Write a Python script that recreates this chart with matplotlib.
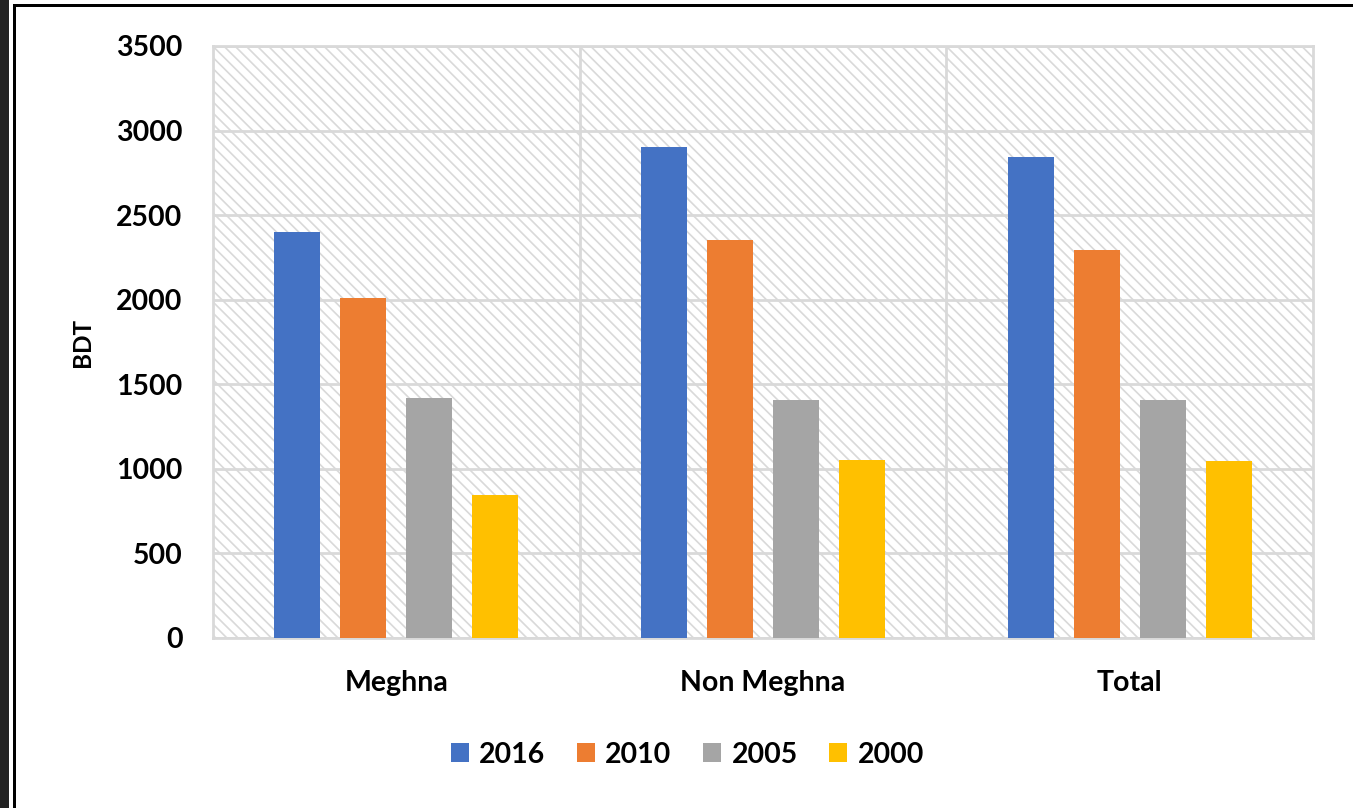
import numpy as np
import matplotlib.pyplot as plt
from matplotlib.patches import Rectangle

categories = ['Meghna', 'Non Meghna', 'Total']
years = ['2016', '2010', '2005', '2000']
values_2016 = [2400, 2905, 2845]
values_2010 = [2010, 2350, 2295]
values_2005 = [1420, 1405, 1405]
values_2000 = [845, 1055, 1045]
colors = ['#4472c4', '#ed7d31', '#a5a5a5', '#ffc000']

series = [values_2016, values_2010, values_2005, values_2000]

plt.rcParams['font.family'] = ['Lato', 'DejaVu Sans']
plt.rcParams['font.weight'] = 'bold'
plt.rcParams['hatch.linewidth'] = 1.2
plt.rcParams['hatch.color'] = '#d9d9d9'

fig = plt.figure(figsize=(13.53, 8.08), dpi=100)
ax = fig.add_axes([0.1574, 0.2104, 0.8130, 0.7327])

# hatched plot area background
bg = Rectangle((0, 0), 1, 1, transform=ax.transAxes, facecolor='white',
               edgecolor='#d9d9d9', hatch='\\\\\\', linewidth=0, zorder=0)
ax.add_patch(bg)

x = np.arange(len(categories))
width = 0.125
offsets = [-0.27, -0.09, 0.09, 0.27]
for vals, off, col, lab in zip(series, offsets, colors, years):
    ax.bar(x + off, vals, width, color=col, label=lab, zorder=3)

ax.set_xlim(-0.5, 2.5)
ax.set_ylim(0, 3500)
ax.set_yticks(np.arange(0, 3501, 500))
ax.set_xticks(x)
ax.set_xticklabels(categories)
ax.set_xticks([0.5, 1.5], minor=True)

ax.grid(axis='y', color='#d9d9d9', linewidth=2, zorder=1)
ax.grid(axis='x', which='minor', color='#d9d9d9', linewidth=2, zorder=1)
ax.set_axisbelow(True)
for s in ax.spines.values():
    s.set_color('#d9d9d9')
    s.set_linewidth(2)

ax.tick_params(axis='both', which='both', length=0, labelsize=20.5)
ax.tick_params(axis='y', pad=22)
ax.tick_params(axis='x', pad=23)
ax.set_ylabel('BDT', fontsize=17.5, fontweight='bold', labelpad=16)

fig.legend(loc='center', bbox_to_anchor=(0.508, 0.066), ncol=4, frameon=False,
           fontsize=20.5, handlelength=0.65, handleheight=0.65,
           handletextpad=0.35, columnspacing=1.1)

# outer frame
fig.patches.append(Rectangle((0, 0), 9 / 1353, 1, transform=fig.transFigure,
                             facecolor='#222222', edgecolor='none'))
fig.patches.append(Rectangle((13 / 1353, 0), 3 / 1353, 1 - 4 / 808,
                             transform=fig.transFigure,
                             facecolor='black', edgecolor='none'))
fig.patches.append(Rectangle((13 / 1353, 1 - 7 / 808), 1 - 13 / 1353, 3 / 808,
                             transform=fig.transFigure,
                             facecolor='black', edgecolor='none'))

fig.savefig('out.png', dpi=100)
